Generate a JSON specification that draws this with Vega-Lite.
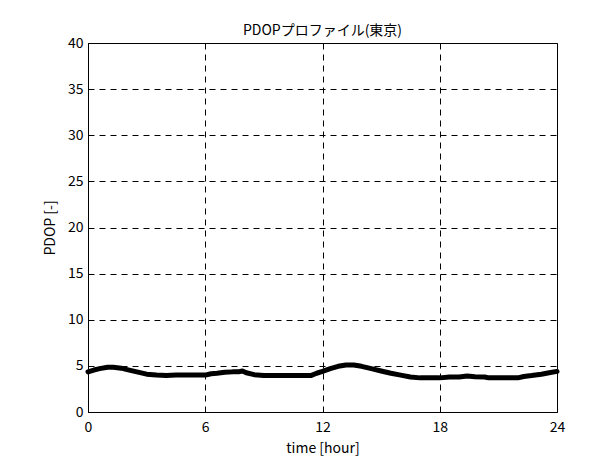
{
  "$schema": "https://vega.github.io/schema/vega-lite/v6.json",
  "width": 469,
  "height": 369,
  "autosize": {"type": "none"},
  "padding": {"left": 88, "top": 43, "right": 47, "bottom": 47},
  "background": "white",
  "title": {"text": "PDOPプロファイル(東京)", "font": "Noto Sans CJK JP", "fontSize": 14, "fontWeight": "normal", "color": "black", "offset": -2},
  "data": {"values": [
    {"t": 0, "v": 4.35}, {"t": 0.3, "v": 4.55}, {"t": 0.6, "v": 4.7}, {"t": 1.0, "v": 4.85},
    {"t": 1.3, "v": 4.85}, {"t": 1.7, "v": 4.75}, {"t": 2.0, "v": 4.6}, {"t": 2.5, "v": 4.35},
    {"t": 3.0, "v": 4.1}, {"t": 3.5, "v": 4.0}, {"t": 4.0, "v": 3.95}, {"t": 4.5, "v": 4.0},
    {"t": 5.0, "v": 4.0}, {"t": 5.5, "v": 4.0}, {"t": 6.0, "v": 4.0}, {"t": 6.3, "v": 4.15},
    {"t": 6.6, "v": 4.2}, {"t": 7.0, "v": 4.3}, {"t": 7.4, "v": 4.35}, {"t": 7.7, "v": 4.35},
    {"t": 7.9, "v": 4.45}, {"t": 8.1, "v": 4.25}, {"t": 8.5, "v": 4.05}, {"t": 9.0, "v": 3.95},
    {"t": 9.5, "v": 3.95}, {"t": 10.0, "v": 3.95}, {"t": 10.5, "v": 3.95}, {"t": 11.0, "v": 3.95},
    {"t": 11.4, "v": 3.95}, {"t": 11.7, "v": 4.2}, {"t": 12.0, "v": 4.4}, {"t": 12.4, "v": 4.7},
    {"t": 12.8, "v": 4.95}, {"t": 13.2, "v": 5.1}, {"t": 13.6, "v": 5.1}, {"t": 14.0, "v": 4.95},
    {"t": 14.5, "v": 4.7}, {"t": 15.0, "v": 4.45}, {"t": 15.5, "v": 4.2}, {"t": 16.0, "v": 4.0},
    {"t": 16.5, "v": 3.8}, {"t": 17.0, "v": 3.7}, {"t": 17.5, "v": 3.7}, {"t": 18.0, "v": 3.7},
    {"t": 18.5, "v": 3.8}, {"t": 19.0, "v": 3.8}, {"t": 19.4, "v": 3.9}, {"t": 19.8, "v": 3.82},
    {"t": 20.3, "v": 3.8}, {"t": 20.5, "v": 3.7}, {"t": 21.0, "v": 3.7}, {"t": 21.5, "v": 3.7},
    {"t": 22.0, "v": 3.7}, {"t": 22.3, "v": 3.85}, {"t": 22.7, "v": 3.95}, {"t": 23.2, "v": 4.1},
    {"t": 23.6, "v": 4.25}, {"t": 24.0, "v": 4.4}
  ]},
  "mark": {"type": "line", "color": "black", "strokeWidth": 5, "strokeJoin": "round", "strokeCap": "round", "interpolate": "linear"},
  "encoding": {
    "x": {"field": "t", "type": "quantitative",
      "scale": {"domain": [0, 24], "nice": false, "zero": false},
      "axis": {"title": "time [hour]", "values": [0, 6, 12, 18, 24], "labelPadding": 8, "titlePadding": 7, "labelFlush": false}},
    "y": {"field": "v", "type": "quantitative",
      "scale": {"domain": [0, 40], "nice": false},
      "axis": {"title": "PDOP [-]", "values": [0, 5, 10, 15, 20, 25, 30, 35, 40], "labelPadding": 5, "titlePadding": 10, "labelFlush": false}}
  },
  "config": {
    "view": {"stroke": "black", "strokeWidth": 1},
    "axis": {
      "domainColor": "black", "domainWidth": 1,
      "ticks": false,
      "grid": true, "gridColor": "black", "gridOpacity": 1, "gridDash": [6, 5], "gridWidth": 1,
      "labelFont": "Noto Sans CJK JP", "labelFontSize": 14, "labelColor": "black",
      "titleFont": "Noto Sans CJK JP", "titleFontSize": 14, "titleFontWeight": "normal", "titleColor": "black"
    }
  }
}
